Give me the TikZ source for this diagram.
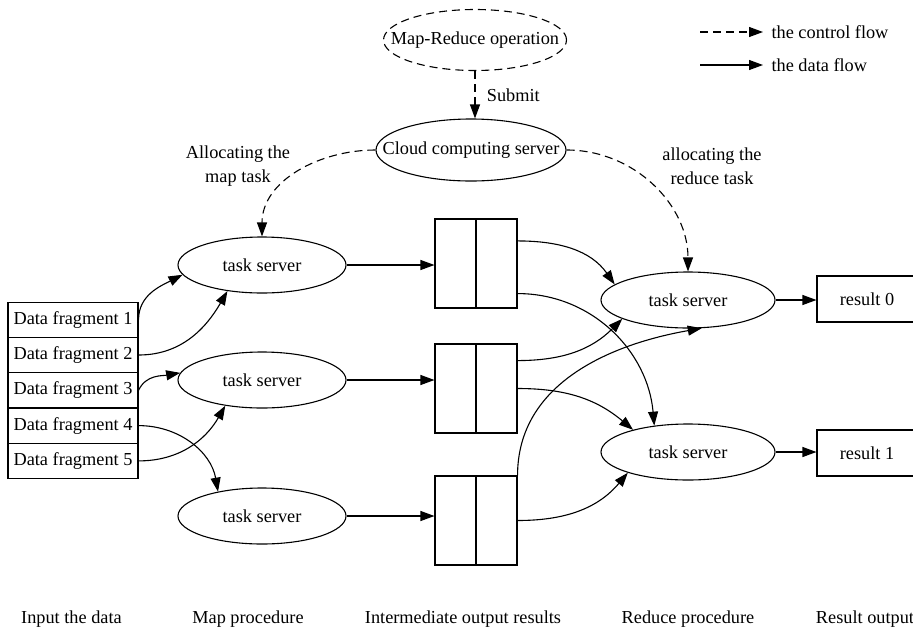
\documentclass[tikz,border=0pt]{standalone}
\usepackage{fontspec}
\setmainfont{Liberation Serif}
\usetikzlibrary{positioning,arrows.meta,shapes.geometric}

\begin{document}
\begin{tikzpicture}[
  x=1pt, y=-1pt,
  font=\fontsize{18.3}{24}\selectfont,
  line width=1.1pt,
  server/.style={ellipse, draw, inner sep=0pt, minimum width=168pt, minimum height=56pt},
  fragment/.style={rectangle, draw, inner sep=0pt, minimum width=130pt, minimum height=35.3pt},
  cell/.style={rectangle, draw, inner sep=0pt, minimum width=41pt, minimum height=89pt},
  result/.style={rectangle, draw, inner sep=0pt, minimum width=100pt, minimum height=46pt},
  dataflow/.style={-{Triangle[length=14pt, width=10pt]}},
  ctrlflow/.style={-{Triangle[length=14pt, width=10pt]}, dash pattern=on 8pt off 5pt}
]
  \useasboundingbox (0,0) rectangle (913,633);

  % control part
  \node[ellipse, draw, dash pattern=on 8pt off 5pt, inner sep=0pt, minimum width=183pt, minimum height=61pt] (op) at (475,40) {\makebox[0pt]{Map-Reduce operation}};
  \node[ellipse, draw, inner sep=0pt, minimum width=190pt, minimum height=62pt] (cloud) at (471,150) {\makebox[0pt]{Cloud computing server}};
  \draw[ctrlflow] (op) -- node[right=8pt] {Submit} (op |- cloud.north);

  % legend
  \coordinate (cf0) at (700,32);
  \coordinate (df0) at (700,65);
  \node[anchor=west, inner sep=8pt] (cflab) at (763,32) {the control flow};
  \node[anchor=west, inner sep=8pt] (dflab) at (763,65) {the data flow};
  \draw[ctrlflow] (cf0) -- (cflab.west);
  \draw[dataflow] (df0) -- (dflab.west);

  % input data
  \foreach \i in {1,...,5}
    \node[fragment] (df\i) at (73,{319.7+35.3*(\i-1)}) {Data fragment \i};

  % map servers
  \node[server] (map1) at (262,265) {task server};
  \node[server] (map2) at (262,380) {task server};
  \node[server] (map3) at (262,516) {task server};

  % intermediate results
  \node[cell] (mid1a) at (455.5,263.5) {};
  \node[cell] (mid1b) at (496.5,263.5) {};
  \node[cell] (mid2a) at (455.5,388.5) {};
  \node[cell] (mid2b) at (496.5,388.5) {};
  \node[cell] (mid3a) at (455.5,520.5) {};
  \node[cell] (mid3b) at (496.5,520.5) {};

  % reduce servers and results
  \node[server, minimum width=174pt] (red0) at (688,300) {task server};
  \node[server, minimum width=174pt] (red1) at (688,452) {task server};
  \node[result] (res0) at (867,299) {result 0};
  \node[result] (res1) at (867,453) {result 1};

  \node[align=center] (maplab) at (238,166) {Allocating the\\map task};
  \node[align=center] (redlab) at (712,166) {allocating the\\reduce task};
  \draw[ctrlflow] (cloud.west) to[out=180, in=90] (map1.north);
  \draw[ctrlflow] (cloud.east) to[out=0, in=90] (red0.north);

  % data flow
  \draw[dataflow] (df1.east) to[out=90, in=207] (map1.187);
  \draw[dataflow] (df2.east) to[out=0, in=240] (map1.217);
  \draw[dataflow] (df3.east) to[out=65, in=190] (map2.175);
  \draw[dataflow] (df5.east) to[out=0, in=240] (map2.215);
  \draw[dataflow] (df4.east) to[out=0, in=100] (map3.151);

  \draw[dataflow] (map1.east) -- (map1.east -| mid1a.west);
  \draw[dataflow] (map2.east) -- (map2.east -| mid2a.west);
  \draw[dataflow] (map3.east) -- (map3.east -| mid3a.west);

  \draw[dataflow] (mid1b.47) to[out=0, in=125] (red0.168);
  \draw[dataflow] (mid1b.-55) to[out=0, in=95] (red1.142);
  \draw[dataflow] (mid2b.53) to[out=0, in=225] (red0.196);
  \draw[dataflow] (mid2b.east) to[out=0, in=140] (red1.158);
  \draw[dataflow] (mid3b.north east) to[out=90, in=190] (red0.296);
  \draw[dataflow] (mid3b.east) to[out=0, in=230] (red1.199);

  \draw[dataflow] (red0.east) -- (red0.east -| res0.west);
  \draw[dataflow] (red1.east) -- (red1.east -| res1.west);

  % stage names
  \node (stage1) at (71.5,619) {Input the data};
  \node (stage2) at (248,619) {Map procedure};
  \node (stage3) at (463,619) {Intermediate output results};
  \node (stage4) at (688,619) {Reduce procedure};
  \node (stage5) at (865,619) {Result output};
\end{tikzpicture}
\end{document}
